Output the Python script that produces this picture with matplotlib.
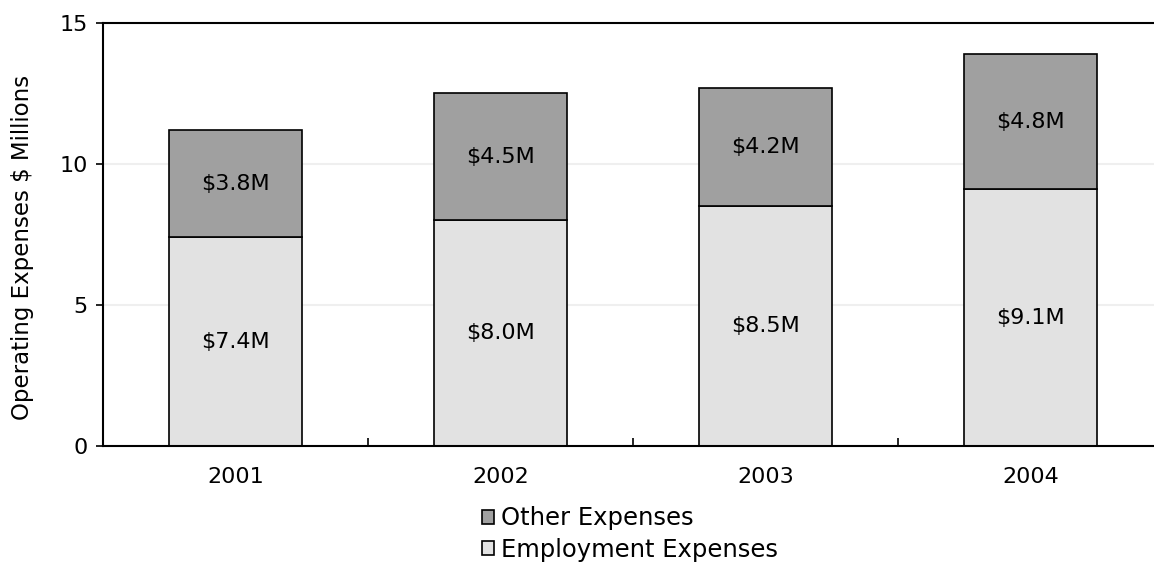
import matplotlib.pyplot as plt
import numpy as np

years = ['2001', '2002', '2003', '2004']
employment = [7.4, 8.0, 8.5, 9.1]
other = [3.8, 4.5, 4.2, 4.8]

plt.rcParams['font.family'] = 'DejaVu Sans'
plt.rcParams['font.size'] = 16

fig = plt.figure(figsize=(11.54, 5.67), dpi=100)
# axes runs past the right edge of the figure, like the original
ax = fig.add_axes([103 / 1154, 121 / 567, 1060 / 1154, 423 / 567])

x = np.arange(len(years))
b1 = ax.bar(x, employment, width=0.5, color='#e2e2e2', edgecolor='black',
            linewidth=1.2, label='Employment Expenses', zorder=2)
b2 = ax.bar(x, other, width=0.5, bottom=employment, color='#a0a0a0',
            edgecolor='black', linewidth=1.2, label='Other Expenses', zorder=2)

for i in range(len(years)):
    ax.text(x[i], employment[i] / 2, f'${employment[i]:.1f}M',
            ha='center', va='center', fontsize=16)
    ax.text(x[i], employment[i] + other[i] / 2, f'${other[i]:.1f}M',
            ha='center', va='center', fontsize=16)

ax.set_xlim(-0.5, 3.5)
ax.set_ylim(0, 15)
ax.set_yticks([0, 5, 10, 15])
ax.set_xticks(x)
ax.set_xticklabels(years)
ax.set_xticks(x[:-1] + 0.5, minor=True)
ax.tick_params(axis='x', which='major', length=0, pad=15)
ax.tick_params(axis='x', which='minor', direction='in', length=6, width=1.2)
ax.tick_params(axis='y', direction='out', length=5, width=1.2, pad=6)
ax.yaxis.grid(True, color='#efefef', linewidth=1.5, zorder=0)
ax.set_axisbelow(True)

ax.spines['right'].set_visible(False)
for s in ['left', 'bottom', 'top']:
    ax.spines[s].set_linewidth(1.5)

ax.set_ylabel('Operating Expenses $ Millions', fontsize=16.5)
ax.yaxis.set_label_coords(-0.065, 0.47)

fig.legend(handles=[b2, b1], loc='center', bbox_to_anchor=(0.546, 0.058),
           frameon=False, fontsize=17.5, handlelength=0.5, handleheight=0.5,
           handletextpad=0.3, labelspacing=0.3, borderpad=0)

fig.savefig('out.png', dpi=100)
